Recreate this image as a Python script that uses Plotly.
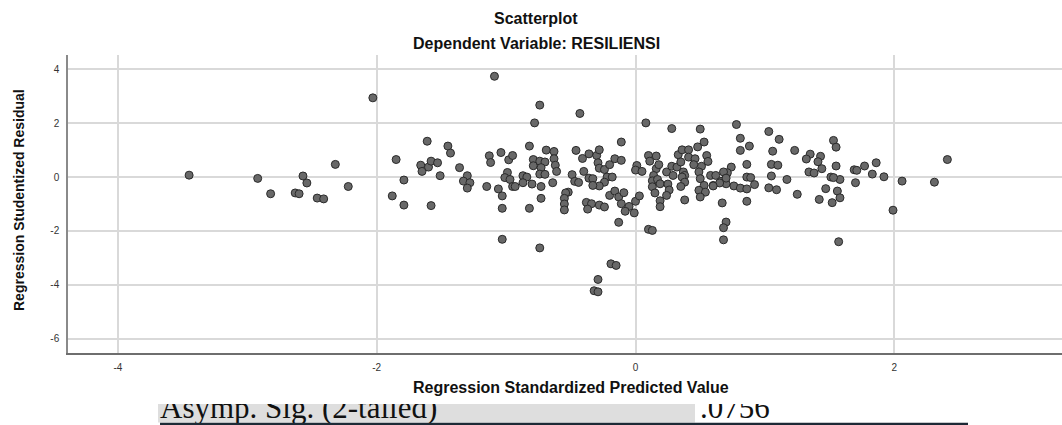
import plotly.graph_objects as go

# ---- data: (predicted, residual) ----
pred = [
    -3.45, -2.92, -2.82, -2.63, -2.60, -2.57, -2.54, -2.46, -2.41, -2.32, -2.22, -2.03, -1.85, -1.88, -1.79, -1.79, -1.66, -1.65,
    -1.61, -1.60, -1.58, -1.53, -1.58, -1.51, -1.45, -1.43, -1.36, -1.30, -1.33, -1.28, -1.30, -1.15, -1.13, -1.12, -1.06, -1.04,
    -0.98, -0.95, -1.03, -1.03, -1.03, -0.99, -1.01, -0.97, -0.95, -0.93, -0.87, -0.84, -0.87, -0.82, -0.82, -0.79, -0.79, -0.80,
    -0.78, -0.74, -0.73, -0.73, -0.74, -0.69, -0.74, -0.70, -0.73, -0.74, -0.70, -0.64, -0.63, -0.63, -0.62, -1.09,
    -0.61, -0.43, 0.08, 0.28, 0.50, -0.11, 0.53, 0.48, -0.46, -0.41, -0.36, -0.30, -0.28, -0.29, -0.28, -0.24, -0.20, -0.16,
    -0.11, -0.49, -0.40, -0.36, -0.33, -0.22, -0.18, -0.24, -0.28, -0.33, -0.47, -0.44, -0.52, -0.54, -0.55, -0.55, -0.55,
    -0.38, -0.34, -0.28, -0.24, -0.37, -0.20, -0.16, -0.13, -0.09, -0.11, -0.05, -0.08, -0.01, 0.00, 0.03, -0.13, 0.10, 0.13,
    0.01, 0.00, 0.05, 0.10, 0.16, 0.11, 0.16, 0.18, 0.14, 0.13, 0.13, 0.15, 0.17, 0.19, 0.19, 0.19, 0.25, 0.26, 0.24, 0.24,
    0.28, 0.29, 0.32, 0.33, 0.36, 0.35, 0.37, 0.38, 0.36, 0.38, 0.35, 0.41, 0.41, 0.46, 0.45, 0.51, 0.55, 0.56, 0.49, 0.50,
    0.58, 0.62, 0.53, 0.49, 0.54, 0.50, 0.60, 0.66, 0.70, 0.70, 0.38, 0.67, 0.70, 0.68, 0.68,
    -0.19, -0.15, -0.29, -0.32, -0.29,
    0.78, 1.03, 1.11, 0.81, 0.88, 0.81, 1.06, 1.23, 1.35, 1.32, 1.43, 1.41, 1.44, 1.34, 1.38, 1.53, 1.55, 1.55, 0.74, 0.71,
    0.68, 0.70, 0.76, 0.81, 0.86, 0.86, 0.86, 0.89, 0.92, 1.05, 1.10, 1.05, 1.17, 1.03, 1.09, 1.25, 0.86, 1.47, 1.42, 1.52,
    1.56, 1.58, 1.51, 1.58, 1.69, 1.71, 1.77, 1.86, 1.83, 1.92, 1.70, 1.57, 1.99,
    2.41, 2.06, 2.31, 0.65, 0.60, 1.53,
]
resid = [
    0.07, -0.05, -0.62, -0.59, -0.62, 0.04, -0.22, -0.78, -0.81, 0.47, -0.35, 2.94, 0.65, -0.70, -0.11, -1.04, 0.44, 0.21,
    1.33, 0.37, 0.59, 0.53, -1.06, 0.05, 1.15, 0.89, 0.35, 0.05, -0.15, -0.21, -0.41, -0.35, 0.79, 0.54, -0.44, 0.91,
    0.64, 0.80, -0.70, -1.16, -2.31, 0.17, -0.02, -0.09, -0.35, -0.35, 0.05, 0.00, -0.21, 1.15, -1.16, 0.65, 0.42, -0.26,
    2.01, 2.67, -0.35, -0.79, -2.63, 1.00, 0.59, 0.56, 0.35, 0.11, 0.10, -0.21, 0.95, 0.68, 0.44, 3.74,
    0.21, 2.36, 2.01, 1.80, 1.78, 1.30, 1.30, 1.12, 0.99, 0.69, 0.86, 0.80, 1.01, 0.53, 0.33, 0.28, 0.46, 0.68,
    0.62, 0.09, 0.21, -0.04, -0.06, 0.00, 0.00, -0.19, -0.33, -0.31, -0.16, -0.20, -0.56, -0.59, -0.79, -1.00, -1.22,
    -0.94, -0.99, -1.04, -1.11, -1.19, -0.68, -0.52, -0.74, -0.58, -0.99, -1.09, -1.27, -1.33, -0.90, -0.70, -1.68, -1.94, -1.98,
    0.43, 0.26, 0.21, 0.80, 0.78, 0.59, 0.31, 0.46, 0.06, -0.14, -0.36, -0.59, -0.09, -0.25, -0.88, -1.10, -0.26, -0.48, -0.68, 0.19,
    0.40, 0.06, 0.37, 0.83, 1.01, 0.56, 0.19, 0.06, 0.00, -0.19, -0.35, 1.01, 0.74, 0.68, 0.46, 0.40, 0.80, 0.58, 0.19, -0.06,
    0.06, 0.06, -0.31, -0.49, -0.56, -0.74, -0.31, -0.16, 0.06, -0.25, -0.85, -0.96, -1.67, -1.88, -2.33,
    -3.22, -3.28, -3.80, -4.22, -4.26,
    1.95, 1.69, 1.40, 1.44, 1.15, 0.99, 0.96, 0.99, 0.85, 0.67, 0.77, 0.57, 0.31, 0.19, 0.15, 1.36, 1.11, 0.41, 0.37, 0.16,
    0.19, -0.04, -0.33, -0.41, -0.44, 0.47, 0.00, -0.02, -0.28, 0.47, 0.44, 0.04, -0.09, -0.40, -0.47, -0.64, -0.90, -0.43, -0.83, -0.95,
    -0.52, -0.77, 0.00, -0.09, 0.27, 0.25, 0.41, 0.53, 0.11, 0.01, -0.21, -2.40, -1.23,
    0.65, -0.15, -0.19, -0.22, -0.33, -0.02,
]

x_ticks = [-4, -2, 0, 2]
x_tick_labels = ["-4", "-2", "0", "2"]
y_ticks = [-6, -4, -2, 0, 2, 4]
y_tick_labels = ["-6", "-4", "-2", "0", "2", "4"]
title_1 = "Scatterplot"
title_2 = "Dependent Variable: RESILIENSI"
x_title = "Regression Standardized Predicted Value"
y_title = "Regression Studentized Residual"
doc_label = "Asymp. Sig. (2-tailed)"
doc_value = ".0756"

W, H = 1062, 425
L, T, B = 68, 55, 353  # plot area edges in px

fig = go.Figure()
fig.add_trace(go.Scatter(
    x=pred, y=resid, mode="markers",
    marker=dict(size=8, color="#686868", line=dict(color="#2a2a2a", width=1)),
    hoverinfo="skip", showlegend=False,
))

# document text strip below the chart (top clipped by the chart image)
fig.add_trace(go.Scatter(
    x=[160, 700], y=[15, 15], mode="text", text=[doc_label, doc_value],
    textposition="middle right", cliponaxis=True,
    textfont=dict(family="Liberation Serif, Times New Roman, serif", size=31, color="#111111"),
    xaxis="x2", yaxis="y2", hoverinfo="skip", showlegend=False,
))

fig.update_layout(
    width=W, height=H,
    margin=dict(l=0, r=0, t=0, b=0),
    paper_bgcolor="white", plot_bgcolor="white",
    font=dict(family="Liberation Sans, Arial, sans-serif", color="#222"),
    xaxis=dict(
        domain=[L / W, 1], range=[-4.386, 3.296], tickvals=x_ticks, ticktext=x_tick_labels,
        showgrid=True, gridcolor="#d9d9d9", gridwidth=2, zeroline=False,
        showline=True, linecolor="#6e6e6e", linewidth=1.5, ticks="",
        tickfont=dict(size=10, color="#333"), ticklabelstandoff=4,
        anchor="y",
    ),
    yaxis=dict(
        domain=[(H - B) / H, (H - T) / H], range=[-6.53, 4.53], tickvals=y_ticks, ticktext=y_tick_labels,
        showgrid=True, gridcolor="#d9d9d9", gridwidth=2, zeroline=False,
        showline=True, linecolor="#8a8a8a", linewidth=1.5, ticks="",
        tickfont=dict(size=10, color="#333"), ticklabelstandoff=5,
        anchor="x",
    ),
    xaxis2=dict(domain=[0, 1], range=[0, W], visible=False, anchor="y2", fixedrange=True),
    yaxis2=dict(domain=[0, 21 / H], range=[0, 21], visible=False, anchor="x2", fixedrange=True),
    shapes=[
        dict(type="rect", xref="x2", yref="y2", x0=158, x1=695, y0=2.5, y1=21,
             fillcolor="#dedede", line=dict(width=0), layer="below"),
        dict(type="rect", xref="x2", yref="y2", x0=160, x1=968, y0=0, y1=2.3,
             fillcolor="#1d2a36", line=dict(width=0), layer="above"),
    ],
    annotations=[
        dict(text="<b>%s</b>" % title_1, xref="paper", yref="paper", x=536 / W, y=(H - 19) / H,
             showarrow=False, xanchor="center", yanchor="middle",
             font=dict(size=16, color="#111")),
        dict(text="<b>%s</b>" % title_2, xref="paper", yref="paper", x=536 / W, y=(H - 44) / H,
             showarrow=False, xanchor="center", yanchor="middle",
             font=dict(size=16, color="#111")),
        dict(text="<b>%s</b>" % x_title, xref="paper", yref="paper", x=571 / W, y=(H - 387) / H,
             showarrow=False, xanchor="center", yanchor="middle",
             font=dict(size=16, color="#111")),
        dict(text="<b>%s</b>" % y_title, xref="paper", yref="paper", x=19 / W, y=(H - 200) / H,
             showarrow=False, xanchor="center", yanchor="middle", textangle=-90,
             font=dict(size=14, color="#111")),
    ],
)

fig.write_html(
    "out.html",
    config={"displayModeBar": False},
    post_script="document.body.style.margin='0';document.body.style.overflow='hidden';",
)
